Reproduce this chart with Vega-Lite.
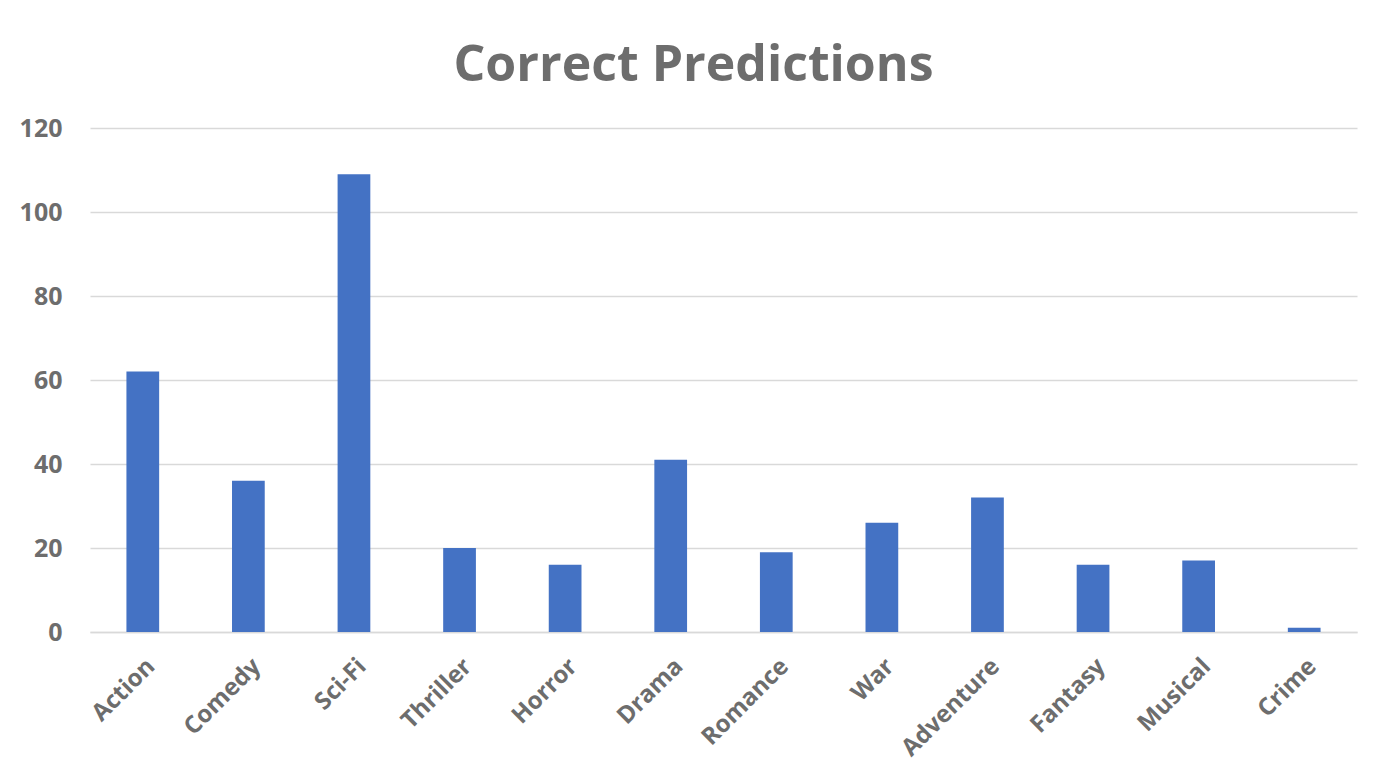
{
  "$schema": "https://vega.github.io/schema/vega-lite/v6.json",
  "autosize": "none",
  "width": 1267,
  "height": 504,
  "padding": {"left": 90, "top": 128, "right": 28, "bottom": 134},
  "background": "white",
  "title": {
    "text": "Correct Predictions",
    "font": "Open Sans",
    "fontSize": 50,
    "fontWeight": "bold",
    "color": "#6d6d6d",
    "anchor": "middle",
    "frame": "group",
    "dx": -30,
    "offset": 25
  },
  "data": {
    "values": [
      {"genre": "Action", "count": 62},
      {"genre": "Comedy", "count": 36},
      {"genre": "Sci-Fi", "count": 109},
      {"genre": "Thriller", "count": 20},
      {"genre": "Horror", "count": 16},
      {"genre": "Drama", "count": 41},
      {"genre": "Romance", "count": 19},
      {"genre": "War", "count": 26},
      {"genre": "Adventure", "count": 32},
      {"genre": "Fantasy", "count": 16},
      {"genre": "Musical", "count": 17},
      {"genre": "Crime", "count": 1}
    ]
  },
  "mark": {"type": "bar", "color": "#4472C4"},
  "encoding": {
    "x": {
      "field": "genre",
      "type": "nominal",
      "sort": null,
      "scale": {"paddingInner": 0.69, "paddingOuter": 0.345},
      "axis": {
        "title": null,
        "labelAngle": -45,
        "labelFont": "Open Sans",
        "labelFontSize": 24,
        "labelFontWeight": "bold",
        "labelColor": "#6d6d6d",
        "labelPadding": 22,
        "ticks": false,
        "domainColor": "#d9d9d9",
        "domainWidth": 1.5,
        "grid": false
      }
    },
    "y": {
      "field": "count",
      "type": "quantitative",
      "scale": {"domain": [0, 120], "nice": false},
      "axis": {
        "title": null,
        "values": [0, 20, 40, 60, 80, 100, 120],
        "labelFont": "Open Sans",
        "labelFontSize": 25,
        "labelFontWeight": "bold",
        "labelColor": "#6d6d6d",
        "labelPadding": 28,
        "ticks": false,
        "domain": false,
        "grid": true,
        "gridColor": "#d9d9d9",
        "gridWidth": 1.5
      }
    }
  },
  "config": {"view": {"stroke": null}}
}
